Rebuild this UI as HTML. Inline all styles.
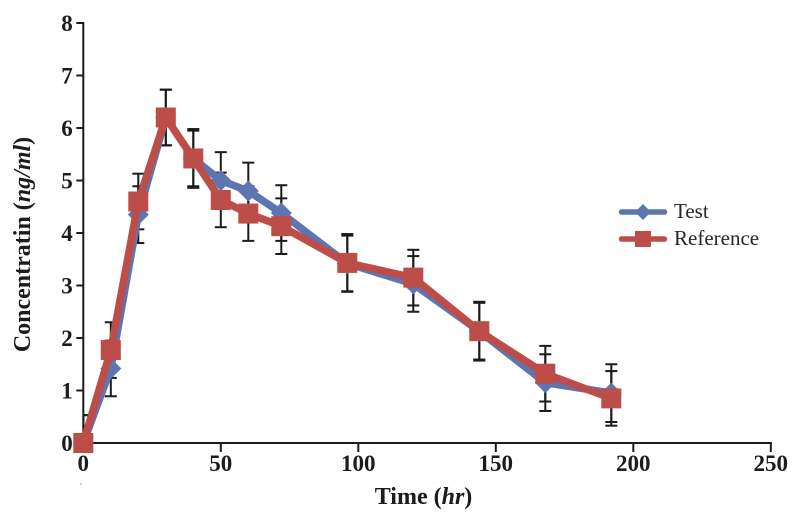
<!DOCTYPE html>
<html lang="en">
<head>
<meta charset="utf-8">
<title>Concentration over time</title>
<style>
  html, body { margin: 0; padding: 0; background: #fff; }
  svg { display: block; font-family: "Liberation Serif", serif; }
  .tick-label { font-size: 23px; font-weight: bold; fill: #1a1a1a; }
  .axis-title { font-size: 24px; font-weight: bold; fill: #1a1a1a; }
  .legend-text { font-size: 21px; fill: #262626; }
</style>
</head>
<body>
<svg id="chart" xmlns="http://www.w3.org/2000/svg" width="795" height="517" viewBox="0 0 795 517">
  <defs>
    <clipPath id="plot-clip"><rect x="83" y="0" width="712" height="443"/></clipPath>
    <filter id="soft" x="-2%" y="-2%" width="104%" height="104%"><feGaussianBlur stdDeviation="0.35"/></filter>
  </defs>
  <g id="root" filter="url(#soft)">
    <g id="error-bars" clip-path="url(#plot-clip)"></g>
    <g id="axes"></g>
    <g id="series"></g>
    <text class="axis-title" x="423.5" y="504" text-anchor="middle">Time (<tspan font-style="italic">hr</tspan>)</text>
    <text class="axis-title" transform="translate(30,244.5) rotate(-90)" text-anchor="middle">Concentratin (<tspan font-style="italic">ng/ml</tspan>)</text>
    <circle cx="81" cy="484" r="0.7" fill="#888"/>
    <g>
      <g>
        <line x1="621.5" y1="212" x2="664.5" y2="212" stroke="#5b76b1" stroke-width="5.5" stroke-linecap="round"/>
        <polygon points="643,204 651,212 643,220 635,212" fill="#5b76b1"/>
        <text class="legend-text" x="674" y="218">Test</text>
      </g>
      <g>
        <line x1="621.5" y1="239" x2="664.5" y2="239" stroke="#bd4d49" stroke-width="5.5" stroke-linecap="round"/>
        <rect x="635" y="231" width="16" height="16" fill="#bd4d49"/>
        <text class="legend-text" x="674" y="245">Reference</text>
      </g>
    </g>
  </g>
</svg>
<script>
const times = [0, 10, 20, 30, 40, 50, 60, 72, 96, 120, 144, 168, 192];
const testValues = [0, 1.42, 4.35, 6.2, 5.42, 5.0, 4.8, 4.38, 3.42, 3.03, 2.13, 1.15, 0.95];
const testErrors = [0.53, 0.53, 0.54, 0.53, 0.53, 0.54, 0.54, 0.53, 0.53, 0.53, 0.54, 0.54, 0.55];
const referenceValues = [0, 1.77, 4.6, 6.2, 5.42, 4.63, 4.37, 4.13, 3.43, 3.15, 2.13, 1.32, 0.85];
const referenceErrors = [0.53, 0.53, 0.53, 0.53, 0.56, 0.52, 0.52, 0.53, 0.55, 0.53, 0.56, 0.53, 0.52];
const xTicks = [0, 50, 100, 150, 200, 250];
const yTicks = [0, 1, 2, 3, 4, 5, 6, 7, 8];

const SVG_NS = 'http://www.w3.org/2000/svg';
const xScale = function (v) { return 83.3 + v * 2.75; };
const yScale = function (v) { return 443 - v * 52.5; };
const INK = '#1a1a1a';
const TEST_COLOR = '#5b76b1';
const REF_COLOR = '#bd4d49';

function make(tag, attrs, parent) {
  const el = document.createElementNS(SVG_NS, tag);
  for (const k in attrs) el.setAttribute(k, attrs[k]);
  parent.appendChild(el);
  return el;
}

const axes = document.getElementById('axes');
const errorGroup = document.getElementById('error-bars');
const seriesGroup = document.getElementById('series');

const yAxisLine = make('line', { x1: xScale(0), y1: yScale(8) - 1, x2: xScale(0), y2: yScale(0) + 1, stroke: INK, 'stroke-width': 2 }, axes);



const xAxisLine = make('line', { x1: xScale(0), y1: yScale(0), x2: xScale(250) + 1, y2: yScale(0), stroke: INK, 'stroke-width': 2 }, axes);



xTicks.forEach(function (t) {
  if (t > 0) {
    const tick = make('line', { x1: xScale(t), y1: yScale(0), x2: xScale(t), y2: yScale(0) + 9, stroke: INK, 'stroke-width': 2 }, axes);
    
    
  }
  const label = make('text', { x: xScale(t), y: 471, 'text-anchor': 'middle', class: 'tick-label' }, axes);
  
  
  label.textContent = t;
});

yTicks.forEach(function (v) {
  const tick = make('line', { x1: xScale(0) - 7, y1: yScale(v), x2: xScale(0), y2: yScale(v), stroke: INK, 'stroke-width': 2 }, axes);
  
  
  const label = make('text', { x: 67, y: yScale(v) + 8, 'text-anchor': 'middle', class: 'tick-label' }, axes);
  
  
  label.textContent = v;
});

function drawErrors(values, errors) {
  times.forEach(function (t, i) {
    const x = xScale(t);
    const hi = yScale(values[i] + errors[i]);
    const lo = yScale(values[i] - errors[i]);
    const stem = make('line', { x1: x, y1: hi, x2: x, y2: lo, stroke: INK, 'stroke-width': 2 }, errorGroup);
    
    
    const capHi = make('line', { x1: x - 6, y1: hi, x2: x + 6, y2: hi, stroke: INK, 'stroke-width': 2 }, errorGroup);
    
    
    const capLo = make('line', { x1: x - 6, y1: lo, x2: x + 6, y2: lo, stroke: INK, 'stroke-width': 2 }, errorGroup);
    
    
  });
}
drawErrors(testValues, testErrors);
drawErrors(referenceValues, referenceErrors);

function linePoints(values) {
  return times.map(function (t, i) { return xScale(t) + ',' + yScale(values[i]); }).join(' ');
}

const testLine = make('polyline', { points: linePoints(testValues), fill: 'none', stroke: TEST_COLOR, 'stroke-width': 7.5, 'stroke-linejoin': 'round' }, seriesGroup);



times.forEach(function (t, i) {
  const x = xScale(t), y = yScale(testValues[i]), r = 10.5;
  const p = make('polygon', { points: x + ',' + (y - r) + ' ' + (x + r) + ',' + y + ' ' + x + ',' + (y + r) + ' ' + (x - r) + ',' + y, fill: TEST_COLOR }, seriesGroup);
  
  
});

const refLine = make('polyline', { points: linePoints(referenceValues), fill: 'none', stroke: REF_COLOR, 'stroke-width': 7.5, 'stroke-linejoin': 'round' }, seriesGroup);



times.forEach(function (t, i) {
  const x = xScale(t), y = yScale(referenceValues[i]), s = 20;
  const p = make('rect', { x: x - s / 2, y: y - s / 2, width: s, height: s, fill: REF_COLOR }, seriesGroup);
  
  
});
</script>
</body>
</html>
